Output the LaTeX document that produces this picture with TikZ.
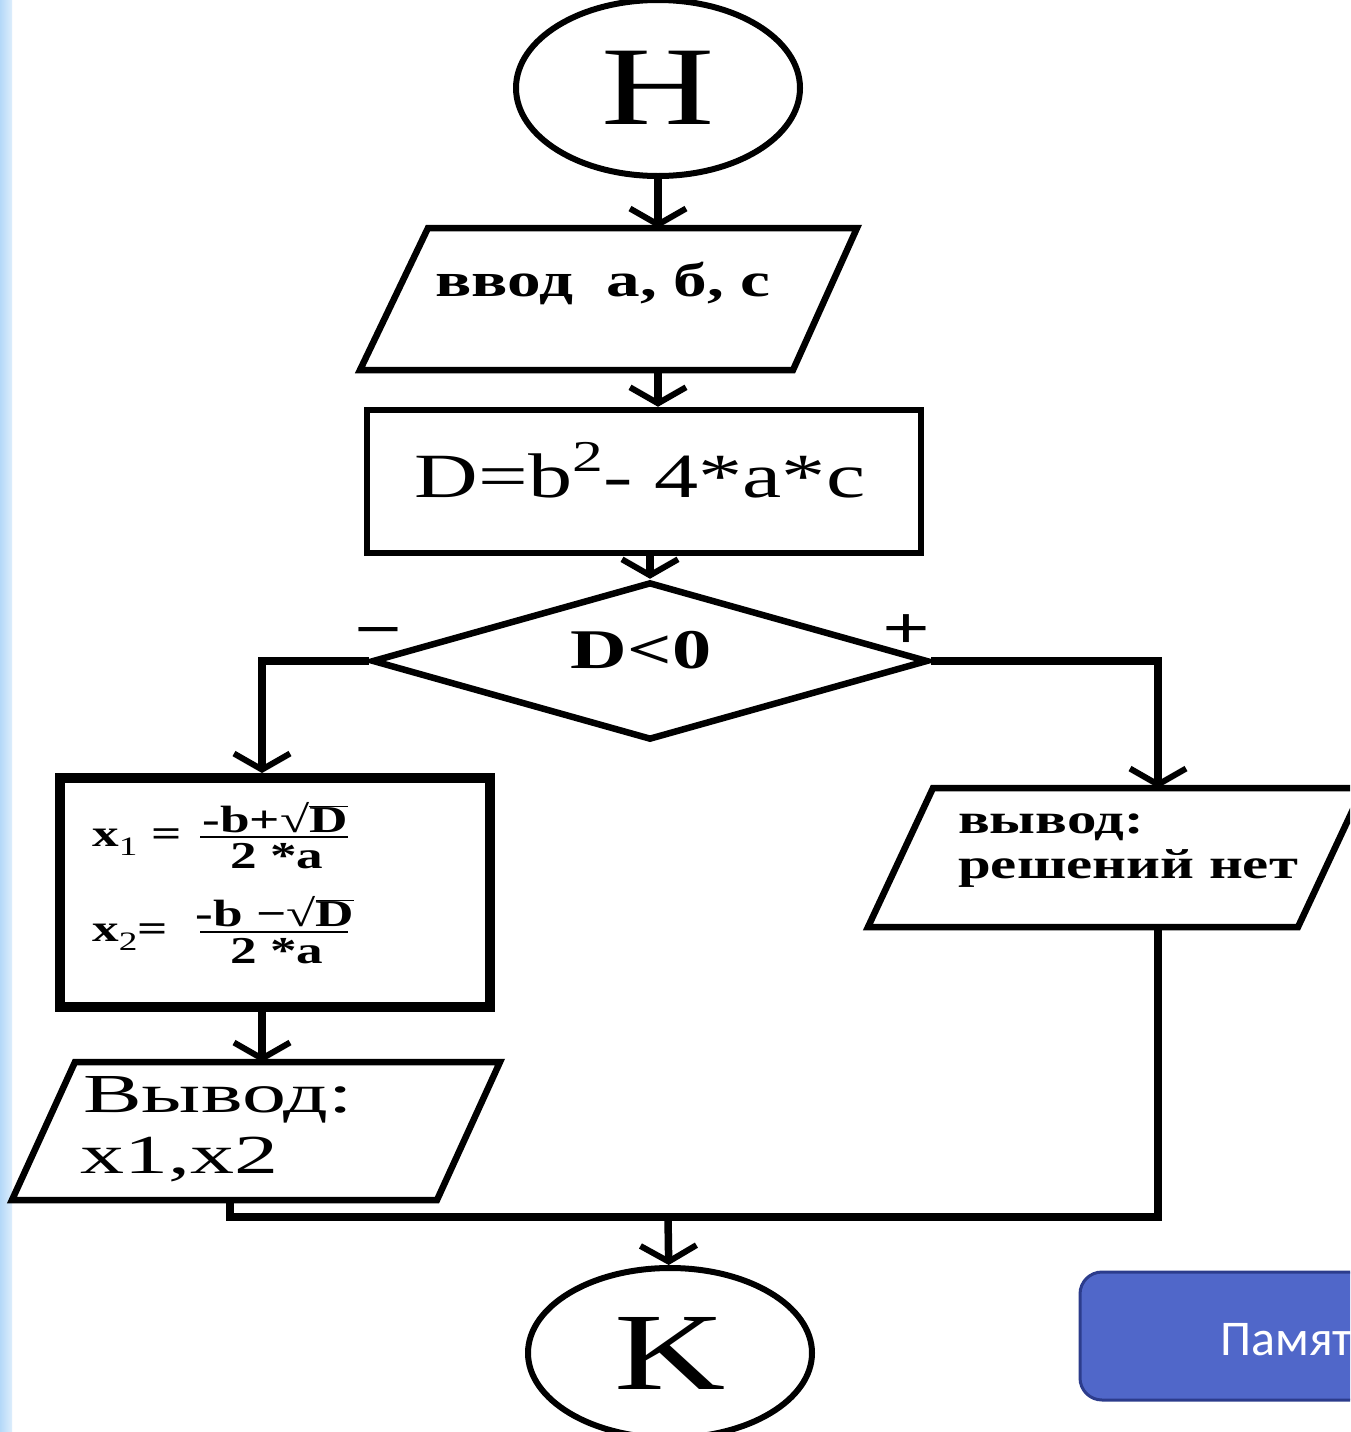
\documentclass[tikz,border=0pt]{standalone}
\usepackage{fontspec}
\setmainfont{Liberation Serif}[FakeStretch=1.4]
\newfontfamily\widefont{Liberation Serif}[FakeStretch=1.6]
\newfontfamily\btnfont{Carlito}
\usetikzlibrary{shapes.geometric,arrows.meta}
\definecolor{stripL}{HTML}{B4D8F8}
\definecolor{stripR}{HTML}{DDEEFC}
\definecolor{btnfill}{HTML}{5067C9}
\definecolor{btnborder}{HTML}{2C3C8C}
\begin{document}
\begin{tikzpicture}[x=1pt,y=-1pt,
  box/.style={draw=black, line width=6.5pt, line join=miter},
  arr/.style={line width=7.5pt, -{Straight Barb[length=16pt,width=56pt,line width=6pt]}},
  conn/.style={line width=7.5pt, line join=miter},
  bt/.style={inner sep=0pt, font=\fontsize{#1}{#1}\selectfont\bfseries},
  rt/.style={inner sep=0pt, font=\fontsize{#1}{#1}\selectfont},
  wt/.style={inner sep=0pt, font=\widefont\fontsize{#1}{#1}\selectfont},
  term/.style={ellipse, draw, line width=6pt, minimum width=284pt, inner sep=0pt},
  body/.style={inner sep=0pt, outer sep=0pt}
]
\useasboundingbox (0,0) rectangle (1350,1432);
\clip (0,0) rectangle (1350,1432);
\fill[white] (0,0) rectangle (1350,1432);
\shade[left color=stripL, right color=stripR] (0,0) rectangle (12,1432);

% start
\node[term, minimum height=176pt, rt=112] (start) at (658,88) {H};

% input
\node[body, minimum width=433pt, minimum height=142pt] (inp) at (609.5,299) {};
\draw[box] (428,228) -- (857,228) -- (793,370) -- (360,370) -- cycle;
\node[bt=48] (tinp) at (603,283) {ввод\ \ а, б, с};

% calculation
\node[draw, line width=6.5pt, minimum width=554pt, minimum height=143pt] (calc) at (644,481.5) {};
\node[rt=63] (tcalc) at (640,470) {D=b\raisebox{0.42em}{\fontsize{44}{44}\selectfont 2}- 4*a*c};

% decision
\node[diamond, draw, line width=6.5pt, minimum width=556pt, minimum height=158pt, inner sep=0pt] (dec) at (650,661) {};
\node[bt=56] (tdec) at (641,650) {D<0};
\node[bt=60] (tminus) at (378,638) {−};
\node[bt=60] (tplus) at (906,632) {+};

% roots
\node[draw, line width=10pt, minimum width=430pt, minimum height=229pt] (roots) at (275,892.5) {};
\node[bt=38, anchor=west] (fx1) at (92,842) {x\textsubscript{\mdseries 1} =};
\node[bt=38] (n1) at (275,818) {-b+√\ensuremath{\overline{\mbox{D}}}};
\draw[line width=2.5pt] (200,837) -- (348,837);
\node[bt=38] (d1) at (277,856) {2 *a};
\node[bt=38, anchor=west] (fx2) at (92,937) {x\textsubscript{\mdseries 2}=};
\node[bt=38] (n2) at (275,912) {-b −√\ensuremath{\overline{\mbox{D}}}};
\draw[line width=2.5pt] (200,932) -- (348,932);
\node[bt=38] (d2) at (277,951) {2 *a};

% output roots
\node[body, minimum width=425pt, minimum height=138pt] (out1) at (256,1131) {};
\draw[box] (75,1062) -- (500,1062) -- (437,1200) -- (12,1200) -- cycle;
\node[wt=55, anchor=base west] (to1a) at (83,1112) {Вывод:};
\node[wt=55, anchor=base west] (to1b) at (80,1173) {x1,x2};

% output no solutions
\node[body, minimum width=430pt, minimum height=139pt] (outno) at (1115.5,857.5) {};
\draw[box] (933,788) -- (1363,788) -- (1298,927) -- (868,927) -- cycle;
\node[bt=42, anchor=base west] (tno1) at (958,833) {вывод:};
\node[bt=42, anchor=base west] (tno2) at (958,878) {решений нет};

% end
\node[term, minimum height=170pt, rt=110] (end) at (670,1353) {K};
\coordinate (m) at (668,1217);

% connectors
\draw[arr] (start) -- (start |- inp.north);
\draw[arr] (start |- inp.south) -- (start |- calc.north);
\draw[arr] (dec.north |- calc.south) -- (dec.north);
\draw[arr] (dec.west) -| ([xshift=-13pt]roots.north);
\draw[arr] ([xshift=-13pt]roots.south) -- ([xshift=-13pt]roots.south |- out1.north);
\draw[arr] (dec.east) -| ([xshift=42.5pt]outno.north);
\draw[conn] ([xshift=42.5pt]outno.south) |- (m) -| ([xshift=-26pt]out1.south);
\draw[arr] (m) -- (end);

% button
\draw[fill=btnfill, draw=btnborder, line width=3pt, rounded corners=22pt] (1080,1272) rectangle (1420,1400);
\node[inner sep=0pt, anchor=base west, text=white, font=\btnfont\fontsize{50}{50}\selectfont] (btn) at (1220,1355) {Памят};
\end{tikzpicture}
\end{document}
